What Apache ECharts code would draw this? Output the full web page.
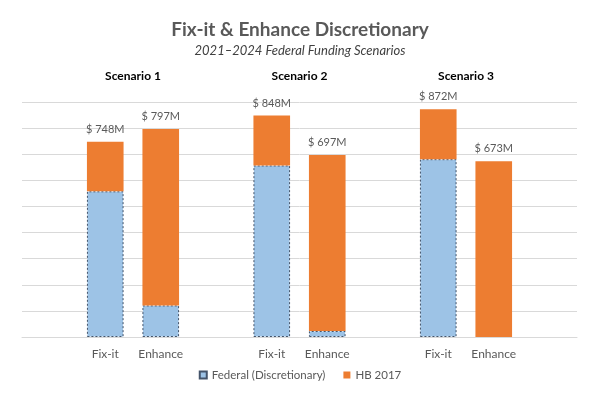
<!DOCTYPE html>
<html>
<head>
<meta charset="utf-8">
<script src="https://cdn.jsdelivr.net/npm/echarts@6/dist/echarts.min.js"></script>
<style>html,body{margin:0;padding:0;background:#fff}#c{width:600px;height:400px}</style>
</head>
<body>
<div id="c"></div>
<script>
const categories = ['', 'Fix-it', 'Enhance', '', 'Fix-it', 'Enhance', '', 'Fix-it', 'Enhance', ''];
const federal = [null, 558, 121, null, 657, 23, null, 681, 0, null];
const hb2017 = [null, 190, 676, null, 191, 674, null, 191, 673, null];
const scenarios = ['Scenario 1', 'Scenario 2', 'Scenario 3'];
const scenarioIdx = [[1, 2], [4, 5], [7, 8]];
const yTicks = [0, 100, 200, 300, 400, 500, 600, 700, 800, 900];

const FONT = 'Lato';
const chart = echarts.init(document.getElementById('c'), null, {renderer: 'canvas'});
chart.setOption({
  animation: false,
  textStyle: {fontFamily: FONT},
  title: {
    text: 'Fix-it & Enhance Discretionary',
    subtext: '2021\u20132024 Federal Funding Scenarios',
    left: 'center', top: 15, itemGap: 5,
    textStyle: {fontFamily: FONT, fontSize: 19, fontWeight: 'bold', color: '#595959'},
    subtextStyle: {fontFamily: FONT, fontSize: 13, fontStyle: 'italic', color: '#404040'}
  },
  legend: {
    bottom: 14, left: 'center', itemWidth: 7, itemHeight: 7, itemGap: 18, icon: 'rect',
    textStyle: {fontFamily: FONT, fontSize: 11.5, color: '#595959'},
    data: ['Federal (Discretionary)', 'HB 2017']
  },
  grid: {left: 22, right: 23, top: 102, bottom: 63},
  xAxis: {
    type: 'category', data: categories,
    axisTick: {show: false},
    axisLine: {lineStyle: {color: '#D9D9D9'}},
    axisLabel: {color: '#595959', fontSize: 12, margin: 11, interval: 0}
  },
  yAxis: {
    type: 'value', min: yTicks[0], max: yTicks[yTicks.length - 1], interval: 100,
    axisLabel: {show: false}, axisLine: {show: false}, axisTick: {show: false},
    splitLine: {lineStyle: {color: '#D9D9D9'}}
  },
  series: [
    {
      name: 'Federal (Discretionary)', type: 'bar', stack: 's', barWidth: '66%',
      data: federal.map(v => v === 0 ? {value: v, itemStyle: {borderWidth: 0}} : v),
      itemStyle: {color: '#9DC3E6', borderColor: '#44546A', borderWidth: 1, borderType: [2, 2]}
    },
    {
      name: 'HB 2017', type: 'bar', stack: 's', barWidth: '66%',
      data: hb2017,
      itemStyle: {color: '#ED7D31'},
      label: {
        show: true, position: 'top', distance: 7, color: '#595959', fontSize: 11, fontFamily: FONT,
        formatter: p => '$ ' + ((federal[p.dataIndex] || 0) + (hb2017[p.dataIndex] || 0)) + 'M'
      }
    }
  ]
});

const topY = chart.convertToPixel({yAxisIndex: 0}, yTicks[yTicks.length - 1]);
chart.setOption({
  graphic: scenarios.map((s, i) => {
    const x = (chart.convertToPixel({xAxisIndex: 0}, scenarioIdx[i][0]) + chart.convertToPixel({xAxisIndex: 0}, scenarioIdx[i][1])) / 2;
    return {
      type: 'text', x: x, y: topY - 26,
      style: {text: s, fontFamily: FONT, fontSize: 12, fontWeight: 'bold', fill: '#000', align: 'center', verticalAlign: 'middle'}
    };
  })
});
</script>
</body>
</html>
